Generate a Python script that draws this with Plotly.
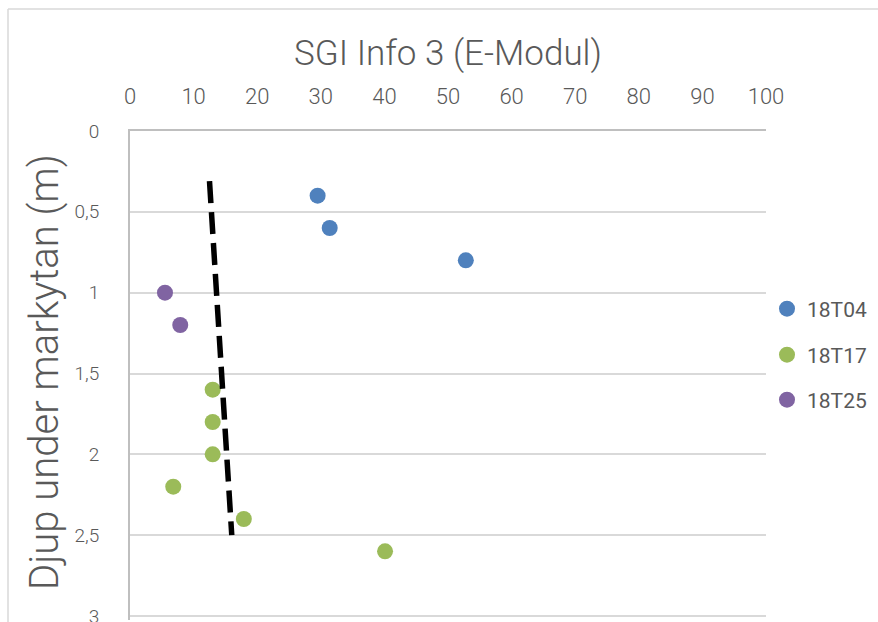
import plotly.graph_objects as go

# Data
s04_x = [29.5, 31.4, 52.8]
s04_y = [0.4, 0.6, 0.8]
s17_x = [13.0, 13.0, 13.0, 6.8, 17.9, 40.1]
s17_y = [1.6, 1.8, 2.0, 2.2, 2.4, 2.6]
s25_x = [5.5, 7.9]
s25_y = [1.0, 1.2]
trend_x = [12.5, 16.0]
trend_y = [0.31, 2.5]
names = ["18T04", "18T17", "18T25"]
colors = ["#4F81BD", "#9BBB59", "#8064A2"]
x_ticks = list(range(0, 101, 10))
y_ticks = [0, 0.5, 1, 1.5, 2, 2.5, 3]
y_ticktext = ["0", "0,5", "1", "1,5", "2", "2,5", "3"]

W, H = 878, 622
L, R, T = 130, 766, 131
Y3 = 616                      # pixel row of depth 3
scale = (Y3 - T) / 3.0
B = 620                       # plot bottom (slightly below the 3-gridline)
y_bottom = 3 + (B - Y3) / scale

def px(xp):
    return (xp - L) / (R - L)

def py(yp):
    return (B - yp) / (B - T)

fig = go.Figure()
series = [(s04_x, s04_y), (s17_x, s17_y), (s25_x, s25_y)]
legs = ["legend", "legend2", "legend3"]
for (xs, ys), n, c, lg in zip(series, names, colors, legs):
    fig.add_trace(go.Scatter(x=xs, y=ys, mode="markers", name=n, legend=lg,
                             marker=dict(color=c, size=16, line=dict(width=0))))

fig.add_trace(go.Scatter(x=trend_x, y=trend_y, mode="lines", showlegend=False,
                         line=dict(color="black", width=5.5, dash="22px,9px")))

legend_common = dict(xanchor="left", yanchor="middle", bgcolor="rgba(0,0,0,0)",
                     font=dict(family="Roboto", size=21, color="#595959"),
                     itemwidth=30)
lx = px(767)

fig.update_layout(
    width=W, height=H,
    margin=dict(l=L, r=W - R, t=T, b=H - B, autoexpand=False),
    paper_bgcolor="white", plot_bgcolor="white",
    title=dict(text="SGI Info 3 (E-Modul)", x=448 / W, xanchor="center",
               y=1 - 53 / H, yanchor="middle", yref="container",
               font=dict(family="Roboto", size=35, color="#595959", weight=300)),
    legend=dict(x=lx, y=py(309), **legend_common),
    legend2=dict(x=lx, y=py(355), **legend_common),
    legend3=dict(x=lx, y=py(400), **legend_common),
    xaxis=dict(side="top", range=[0, 100], tickvals=x_ticks, showgrid=False,
               zeroline=False, showline=True, linecolor="#BFBFBF", linewidth=2,
               ticks="", ticklabelstandoff=16, automargin=False,
               tickfont=dict(family="Roboto", size=22, color="#595959", weight=300)),
    yaxis=dict(range=[y_bottom, 0], tickvals=y_ticks, ticktext=y_ticktext, showgrid=True,
               gridcolor="#D9D9D9", gridwidth=1.5, zeroline=False, showline=True,
               linecolor="#BFBFBF", linewidth=2, ticks="", ticklabelstandoff=25,
               ticklabeloverflow="allow", automargin=False,
               tickfont=dict(family="Roboto", size=19, color="#595959", weight=300)),
    annotations=[dict(text="Djup under markytan (m)", textangle=-90, xref="paper",
                      yref="paper", x=px(44), y=py(372), xanchor="center",
                      yanchor="middle", showarrow=False,
                      font=dict(family="Roboto", size=40, color="#595959", weight=300))],
    shapes=[
        dict(type="line", xref="paper", yref="paper", x0=px(8), x1=px(W + 5),
             y0=py(9), y1=py(9), line=dict(color="#D9D9D9", width=1.5)),
        dict(type="line", xref="paper", yref="paper", x0=px(8), x1=px(8),
             y0=py(9), y1=py(H + 5), line=dict(color="#D9D9D9", width=1.5)),
    ],
)

fig.write_html("out.html")
